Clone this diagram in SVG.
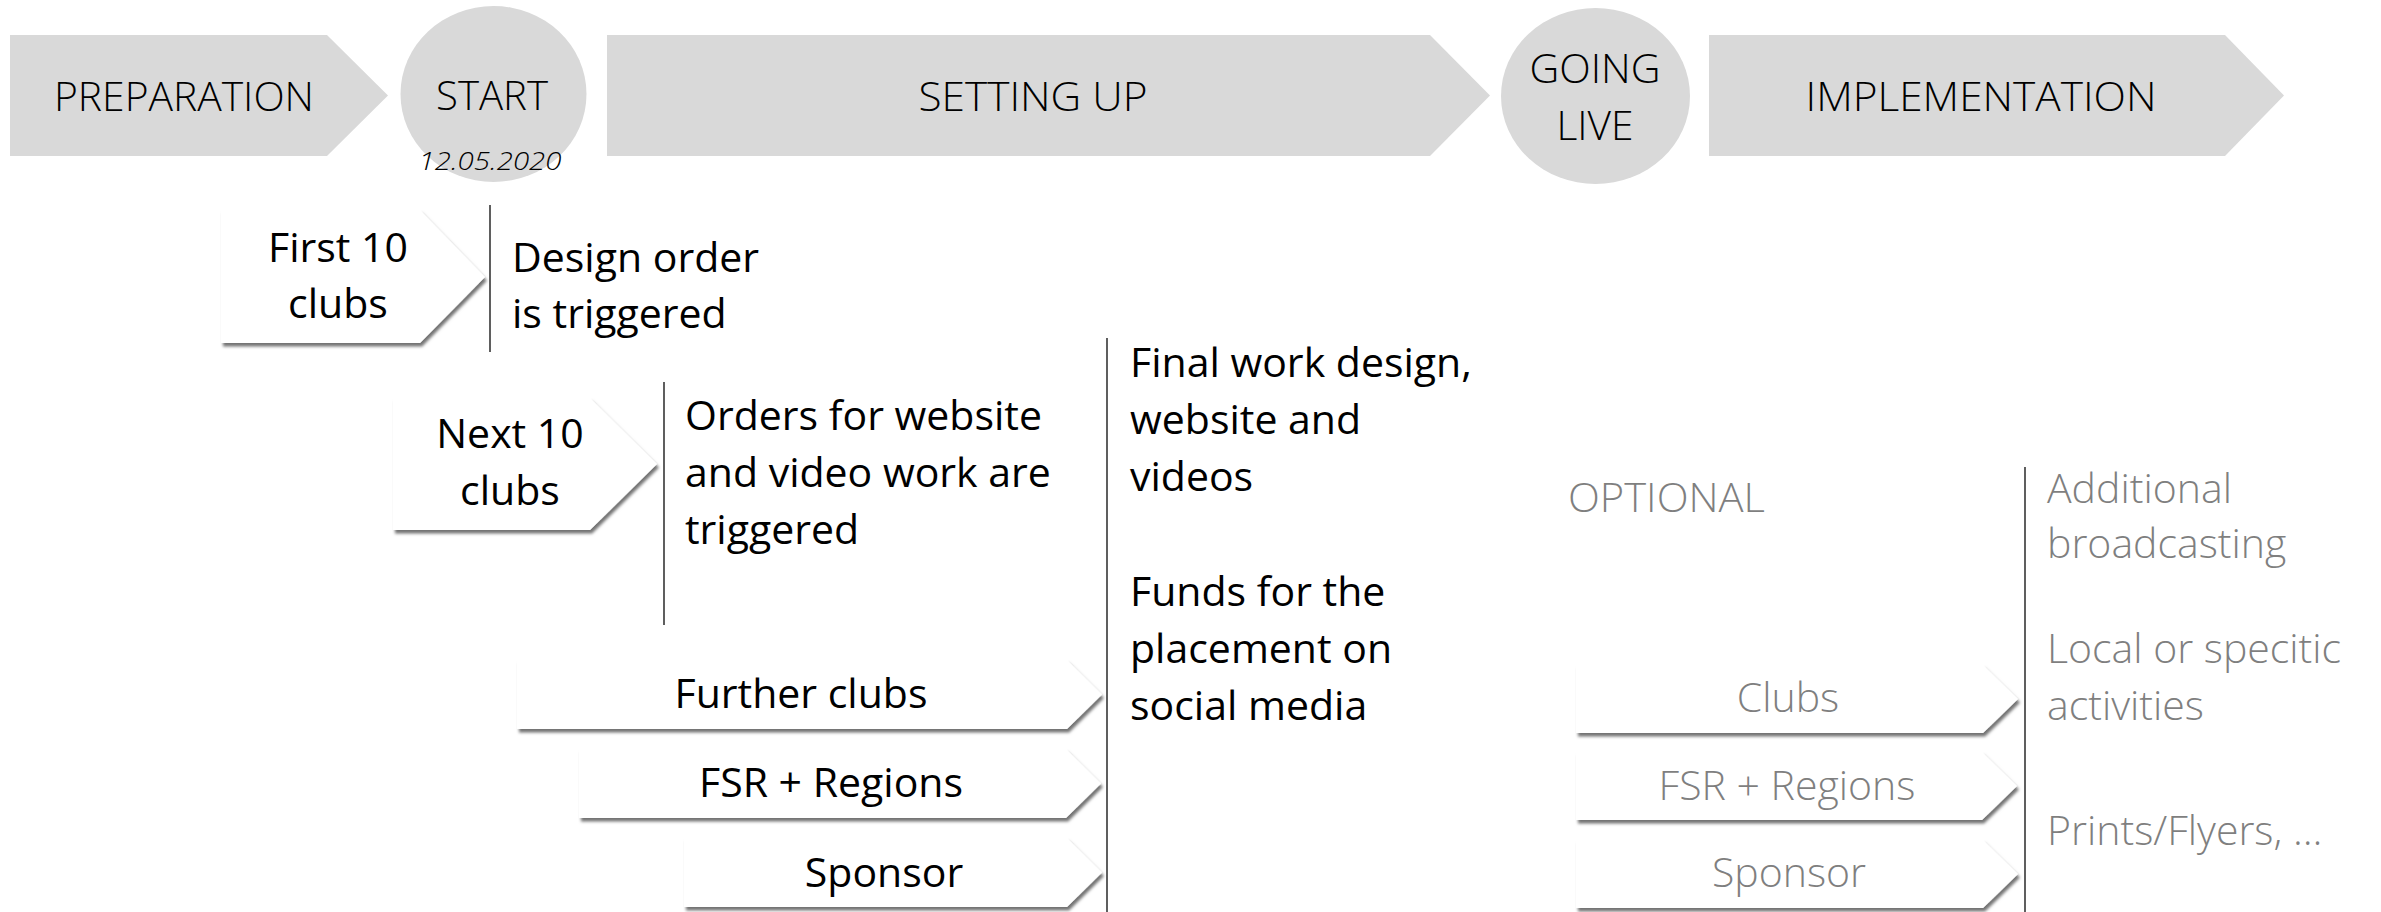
<svg xmlns="http://www.w3.org/2000/svg" width="2381" height="912" viewBox="0 0 2381 912">
  <defs>
    <filter id="shadow" x="-5%" y="-15%" width="112%" height="140%">
      <feDropShadow dx="2" dy="3.5" stdDeviation="1.6" flood-color="#000" flood-opacity="0.55"/>
    </filter>
  </defs>
  <style>
    .phase { fill: #d9d9d9; stroke: none; }
    .head { font-family: "Open Sans", "Liberation Sans", sans-serif; font-weight: 300; font-size: 41px; fill: #000; text-anchor: middle; }
    .date { font-family: "Open Sans", "Liberation Sans", sans-serif; font-weight: 300; font-style: italic; font-size: 26px; fill: #000; text-anchor: middle; }
    .tag { fill: #fff; filter: url(#shadow); }
    .body { font-family: "Open Sans", "Liberation Sans", sans-serif; font-weight: 400; font-size: 41px; fill: #000; }
    .mid { text-anchor: middle; }
    .grey { font-family: "Open Sans", "Liberation Sans", sans-serif; font-weight: 300; font-size: 41px; fill: #7f7f7f; }
    .rule { stroke: #1a1a1a; stroke-width: 1.4; fill: none; }
  </style>

  <!-- Phase banner -->
  <g id="preparation">
    <polygon class="phase" points="10,35 327,35 388,95.5 327,156 10,156"/>
    <text class="head" x="184" y="111" textLength="260" lengthAdjust="spacingAndGlyphs">PREPARATION</text>
  </g>
  <g id="start">
    <ellipse class="phase" cx="493.5" cy="94" rx="93" ry="88"/>
    <text class="head" x="492" y="110" textLength="112" lengthAdjust="spacingAndGlyphs">START</text>
    <text class="date" x="490" y="170" textLength="143" lengthAdjust="spacingAndGlyphs">12.05.2020</text>
  </g>
  <g id="setting-up">
    <polygon class="phase" points="607,35 1430,35 1490,95.5 1430,156 607,156"/>
    <text class="head" x="1033" y="111" textLength="229" lengthAdjust="spacingAndGlyphs">SETTING UP</text>
  </g>
  <g id="going-live">
    <ellipse class="phase" cx="1595.5" cy="96" rx="94.5" ry="88"/>
    <text class="head" x="1595" y="83" textLength="131" lengthAdjust="spacingAndGlyphs">GOING</text>
    <text class="head" x="1595" y="140" textLength="77" lengthAdjust="spacingAndGlyphs">LIVE</text>
  </g>
  <g id="implementation">
    <polygon class="phase" points="1709,35 2225,35 2284,95.5 2225,156 1709,156"/>
    <text class="head" x="1981" y="111" textLength="351" lengthAdjust="spacingAndGlyphs">IMPLEMENTATION</text>
  </g>

  <!-- Divider rules between tags and descriptions -->
  <g id="dividers">
    <line class="rule" x1="490" y1="205" x2="490" y2="352"/>
    <line class="rule" x1="664" y1="382" x2="664" y2="625"/>
    <line class="rule" x1="1107" y1="338" x2="1107" y2="912"/>
    <line class="rule" x1="2025" y1="467" x2="2025" y2="912"/>
  </g>

  <!-- Setting-up stage -->
  <g id="first-10-clubs">
    <polygon class="tag" points="221,210 420,210 485,277 420,343 221,343"/>
    <text class="body mid" x="338" y="262">First 10</text>
    <text class="body mid" x="338" y="318">clubs</text>
  </g>
  <g id="design-order">
    <text class="body" x="512" y="272">Design order</text>
    <text class="body" x="512" y="328">is triggered</text>
  </g>
  <g id="next-10-clubs">
    <polygon class="tag" points="393,398 590,398 657,464 590,530 393,530"/>
    <text class="body mid" x="510" y="448">Next 10</text>
    <text class="body mid" x="510" y="505">clubs</text>
  </g>
  <g id="orders">
    <text class="body" x="685" y="430">Orders for website</text>
    <text class="body" x="685" y="487">and video work are</text>
    <text class="body" x="685" y="544">triggered</text>
  </g>
  <g id="further-clubs">
    <polygon class="tag" points="517,660 1067,660 1102,694.5 1067,729 517,729"/>
    <text class="body mid" x="801" y="708">Further clubs</text>
  </g>
  <g id="fsr-regions">
    <polygon class="tag" points="579,749 1066,749 1101,783.5 1066,818 579,818"/>
    <text class="body mid" x="831" y="797">FSR + Regions</text>
  </g>
  <g id="sponsor">
    <polygon class="tag" points="684,838 1067,838 1102,872.5 1067,907 684,907"/>
    <text class="body mid" x="884" y="887">Sponsor</text>
  </g>
  <g id="final-work">
    <text class="body" x="1130" y="377">Final work design,</text>
    <text class="body" x="1130" y="434">website and</text>
    <text class="body" x="1130" y="491">videos</text>
  </g>
  <g id="funds">
    <text class="body" x="1130" y="606">Funds for the</text>
    <text class="body" x="1130" y="663">placement on</text>
    <text class="body" x="1130" y="720">social media</text>
  </g>

  <!-- Optional implementation stage -->
  <g id="optional">
    <text class="grey" x="1568" y="512" textLength="197" lengthAdjust="spacingAndGlyphs">OPTIONAL</text>
  </g>
  <g id="opt-clubs">
    <polygon class="tag" points="1576,665 1983,665 2018,699 1983,733 1576,733"/>
    <text class="grey mid" x="1788" y="712">Clubs</text>
  </g>
  <g id="opt-fsr-regions">
    <polygon class="tag" points="1576,752 1982,752 2017,786 1982,820 1576,820"/>
    <text class="grey mid" x="1787" y="800">FSR + Regions</text>
  </g>
  <g id="opt-sponsor">
    <polygon class="tag" points="1576,840 1983,840 2018,874 1983,908 1576,908"/>
    <text class="grey mid" x="1789" y="887">Sponsor</text>
  </g>
  <g id="broadcasting">
    <text class="grey" x="2047" y="503">Additional</text>
    <text class="grey" x="2047" y="558">broadcasting</text>
  </g>
  <g id="local-activities">
    <text class="grey" x="2047" y="663">Local or specitic</text>
    <text class="grey" x="2047" y="720">activities</text>
  </g>
  <g id="prints">
    <text class="grey" x="2047" y="845">Prints/Flyers, …</text>
  </g>
</svg>
